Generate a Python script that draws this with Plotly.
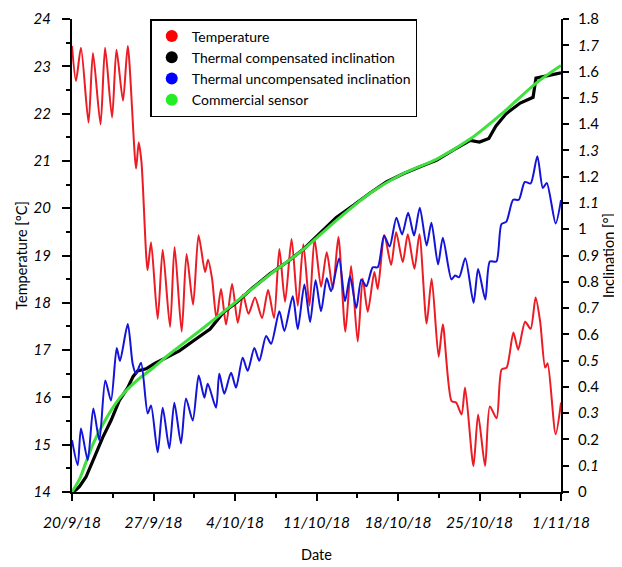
import pandas as pd
import plotly.graph_objects as go

# ---------------- data (days since 20/9/18 00:00) ----------------
red_day = [0, 0.34, 0.77, 1.42, 1.80, 2.45, 2.84, 3.44, 3.82, 4.38, 4.79, 5.50, 5.73, 5.97, 6.49, 6.79,
           7.36, 7.79, 8.42, 8.81, 9.42, 9.84, 10.40, 10.87, 11.43, 11.68, 12.03, 12.41, 12.80, 13.23,
           13.75, 14.24, 14.69, 15.16, 15.72, 16.32, 16.84, 17.35, 17.81, 18.30, 18.86, 19.39, 19.87,
           20.40, 20.83, 21.39, 21.88, 22.40, 22.88, 23.48, 23.97, 24.54, 24.97, 25.40, 25.97, 26.26,
           26.83, 27.41, 27.84, 28.41, 28.84, 29.41, 29.84, 30.46, 30.89, 31.49, 31.85, 32.60, 32.99,
           33.46, 33.76, 34.48, 34.88, 35.48, 35.89, 36.47, 36.90, 37.33, 37.91, 38.32, 38.92, 39.39,
           39.82, 40.21, 40.64, 40.85, 41.54, 42.0]
red_temp = [23.43, 22.69, 23.39, 21.81, 23.28, 21.77, 23.39, 21.92, 23.35, 22.27, 23.43, 20.84, 21.39,
            20.97, 18.69, 19.28, 17.66, 19.12, 17.49, 19.18, 17.39, 19.03, 17.96, 19.43, 18.65, 18.91,
            18.51, 17.66, 18.29, 17.54, 18.40, 17.58, 18.17, 17.77, 18.11, 17.68, 18.27, 17.68, 19.14,
            18.02, 19.35, 17.94, 19.24, 17.94, 19.35, 18.34, 19.07, 18.29, 19.39, 17.39, 18.78, 17.18,
            18.51, 17.81, 18.65, 18.29, 19.43, 18.80, 19.49, 18.86, 19.45, 18.72, 19.45, 17.56, 18.51,
            16.86, 17.54, 15.92, 15.89, 15.64, 16.21, 14.55, 15.64, 14.55, 15.81, 15.56, 16.59, 16.63,
            17.37, 17.01, 17.60, 17.45, 18.11, 17.60, 16.63, 16.72, 15.22, 15.89]

black_day = [0, 0.34, 0.63, 1.20, 1.92, 2.64, 3.35, 4.06, 4.79, 5.24, 5.64, 6.36, 7.07, 8.08, 9.22,
             10.65, 11.86, 13.0, 14.15, 15.5, 17.0, 18.5, 19.9, 21.3, 22.7, 24.2, 25.6, 27.0, 28.5,
             30.0, 31.3, 32.7, 34.2, 35.0, 35.8, 36.4, 37.3, 38.5, 39.6, 39.85, 40.7, 41.5, 42.0]
black_incl = [0.0, 0.008, 0.02, 0.057, 0.132, 0.208, 0.272, 0.348, 0.397, 0.439, 0.461, 0.469, 0.488,
              0.511, 0.537, 0.582, 0.620, 0.683, 0.722, 0.776, 0.830, 0.876, 0.925, 0.985, 1.045,
              1.092, 1.138, 1.180, 1.212, 1.240, 1.262, 1.300, 1.338, 1.332, 1.345, 1.392, 1.440,
              1.480, 1.502, 1.575, 1.583, 1.590, 1.595]

blue_day = [0.00, 0.49, 0.77, 1.35, 1.83, 2.35, 2.86, 3.35, 3.84, 4.12, 4.79, 5.21, 5.50, 5.93, 6.50,
            6.79, 7.36, 7.79, 8.36, 8.79, 9.36, 9.79, 10.37, 10.88, 11.37, 11.66, 12.37, 12.65, 13.08,
            13.66, 14.09, 14.66, 15.09, 15.66, 16.09, 16.67, 17.10, 17.81, 18.24, 18.96, 19.39, 19.96,
            20.45, 20.92, 21.39, 21.88, 22.25, 22.94, 23.45, 23.88, 24.42, 24.85, 25.28, 25.83, 26.26,
            26.80, 27.28, 27.86, 28.35, 28.87, 29.38, 29.87, 30.46, 30.87, 31.44, 31.85, 32.59, 32.90,
            33.25, 33.78, 34.49, 34.88, 35.50, 35.89, 36.45, 36.88, 37.31, 37.89, 38.38, 38.89, 39.39,
            39.97, 40.44, 40.78, 41.54, 42.0]
blue_incl = [0.197, 0.102, 0.242, 0.121, 0.318, 0.197, 0.424, 0.348, 0.548, 0.499, 0.639, 0.488, 0.450,
             0.492, 0.299, 0.329, 0.151, 0.321, 0.166, 0.340, 0.185, 0.356, 0.272, 0.443, 0.359, 0.412,
             0.321, 0.450, 0.374, 0.454, 0.397, 0.511, 0.461, 0.548, 0.499, 0.594, 0.564, 0.688, 0.613,
             0.745, 0.620, 0.790, 0.647, 0.806, 0.688, 0.813, 0.764, 0.889, 0.726, 0.821, 0.700, 0.809,
             0.783, 0.855, 0.855, 0.976, 0.934, 1.044, 0.980, 1.063, 0.976, 1.082, 0.938, 1.025, 0.866,
             0.968, 0.809, 0.824, 0.817, 0.890, 0.720, 0.849, 0.733, 0.877, 0.877, 1.019, 1.029, 1.112,
             1.112, 1.180, 1.174, 1.278, 1.157, 1.176, 1.022, 1.111]

green_day = [0, 0.69, 1.26, 1.83, 2.69, 4.12, 5.56, 6.98, 8.42, 11.28, 14.15, 17.01, 19.87, 22.74,
             25.60, 28.46, 31.33, 34.19, 37.05, 39.92, 42.0]
green_incl = [0.0, 0.053, 0.121, 0.185, 0.261, 0.359, 0.424, 0.473, 0.526, 0.624, 0.726, 0.828, 0.923,
              1.035, 1.137, 1.212, 1.267, 1.343, 1.445, 1.558, 1.623]

series_names = ["Temperature", "Thermal compensated inclination",
                "Thermal uncompensated inclination", "Commercial sensor"]

x_tick_dates = ["2018-09-20", "2018-09-27", "2018-10-04", "2018-10-11", "2018-10-18",
                "2018-10-25", "2018-11-01"]
x_tick_labels = ["20/9/18", "27/9/18", "4/10/18", "11/10/18", "18/10/18", "25/10/18", "1/11/18"]
temp_ticks = [14, 15, 16, 17, 18, 19, 20, 21, 22, 23, 24]
incl_ticks = [0, 0.1, 0.2, 0.3, 0.4, 0.5, 0.6, 0.7, 0.8, 0.9, 1, 1.1, 1.2, 1.3, 1.4, 1.5, 1.6, 1.7, 1.8]
incl_labels = ["0", "0.1", "0.2", "0.3", "0.4", "0.5", "0.6", "0.7", "0.8", "0.9", "1",
               "1.1", "1.2", "1.3", "1.4", "1.5", "1.6", "1.7", "1.8"]

# ---------------- build ----------------
start = pd.Timestamp("2018-09-20")


def to_dates(days):
    return [start + pd.Timedelta(days=d) for d in days]


FONT = "Lato, 'Open Sans', sans-serif"
RED, BLACK, BLUE, GREEN = "#ec1c24", "#000000", "#1414d8", "#3ee03e"

fig = go.Figure()
fig.add_trace(go.Scatter(x=to_dates(black_day), y=black_incl, yaxis="y2", mode="lines",
                         line=dict(color=BLACK, width=3.2), showlegend=False, hoverinfo="skip"))
fig.add_trace(go.Scatter(x=to_dates(green_day), y=green_incl, yaxis="y2", mode="lines",
                         line=dict(color=GREEN, width=3, shape="spline", smoothing=0.8),
                         showlegend=False))
fig.add_trace(go.Scatter(x=to_dates(blue_day), y=blue_incl, yaxis="y2", mode="lines",
                         line=dict(color=BLUE, width=2, shape="spline", smoothing=0.7),
                         showlegend=False))
fig.add_trace(go.Scatter(x=to_dates(red_day), y=red_temp, yaxis="y", mode="lines",
                         line=dict(color=RED, width=2, shape="spline", smoothing=0.7),
                         showlegend=False))

for name, col in zip(series_names, ["#ff0000", "#000000", "#0000ff", "#22ee22"]):
    fig.add_trace(go.Scatter(x=[None], y=[None], mode="markers", name=name,
                             marker=dict(color=col, size=13, symbol="circle")))

minor_x = [start + pd.Timedelta(days=3.5 + 7 * i) for i in range(6)]

axis_common = dict(showgrid=False, zeroline=False, showline=True, linecolor="black", linewidth=2,
                   ticks="outside", tickcolor="black", tickwidth=2, mirror=False, automargin=False,
                   ticklabeloverflow="allow")

# the page body has an 8px margin, so the figure is sized to the visible window
fig.update_layout(
    template="none",
    width=614, height=559,
    margin=dict(l=64, r=61, t=11, b=75, autoexpand=False),
    plot_bgcolor="white", paper_bgcolor="white",
    font=dict(family=FONT, size=14, color="black"),
    xaxis=dict(**axis_common, type="date", range=["2018-09-20", "2018-11-01"],
               tickmode="array", tickvals=x_tick_dates,
               ticktext=["<i>%s</i>" % t for t in x_tick_labels],
               ticklen=7, tickfont=dict(size=15.5, family=FONT), ticklabelstandoff=8,
               minor=dict(tickvals=minor_x, ticks="outside", ticklen=4, tickwidth=2,
                          tickcolor="black", showgrid=False),
               title=dict(text="Date", font=dict(size=14.5, family=FONT), standoff=20)),
    yaxis=dict(**axis_common, range=[14, 24], tickmode="array", tickvals=temp_ticks,
               ticktext=["<i>%d</i>" % t for t in temp_ticks], ticklen=8,
               tickfont=dict(size=15, family=FONT), ticklabelstandoff=8,
               minor=dict(tickvals=[t + 0.5 for t in temp_ticks[:-1]], ticks="outside",
                          ticklen=4, tickwidth=2, tickcolor="black", showgrid=False),
               title=dict(text="Temperature [°C]", font=dict(size=14.5, family=FONT), standoff=3)),
    yaxis2=dict(**axis_common, overlaying="y", side="right", range=[0, 1.8], tickmode="array",
                tickvals=incl_ticks,
                ticktext=[("<i>%s</i>" % l) if i % 2 else l for i, l in enumerate(incl_labels)],
                ticklen=6, tickfont=dict(size=15, family=FONT), ticklabelstandoff=6,
                title=dict(text="Inclination [°]", font=dict(size=14.5, family=FONT), standoff=6)),
    legend=dict(x=0.16, y=1.0, xanchor="left", yanchor="top", bordercolor="black",
                borderwidth=1.5, bgcolor="white", font=dict(size=14, family=FONT),
                tracegroupgap=0, itemsizing="constant"),
)

fig.write_html("out.html")
